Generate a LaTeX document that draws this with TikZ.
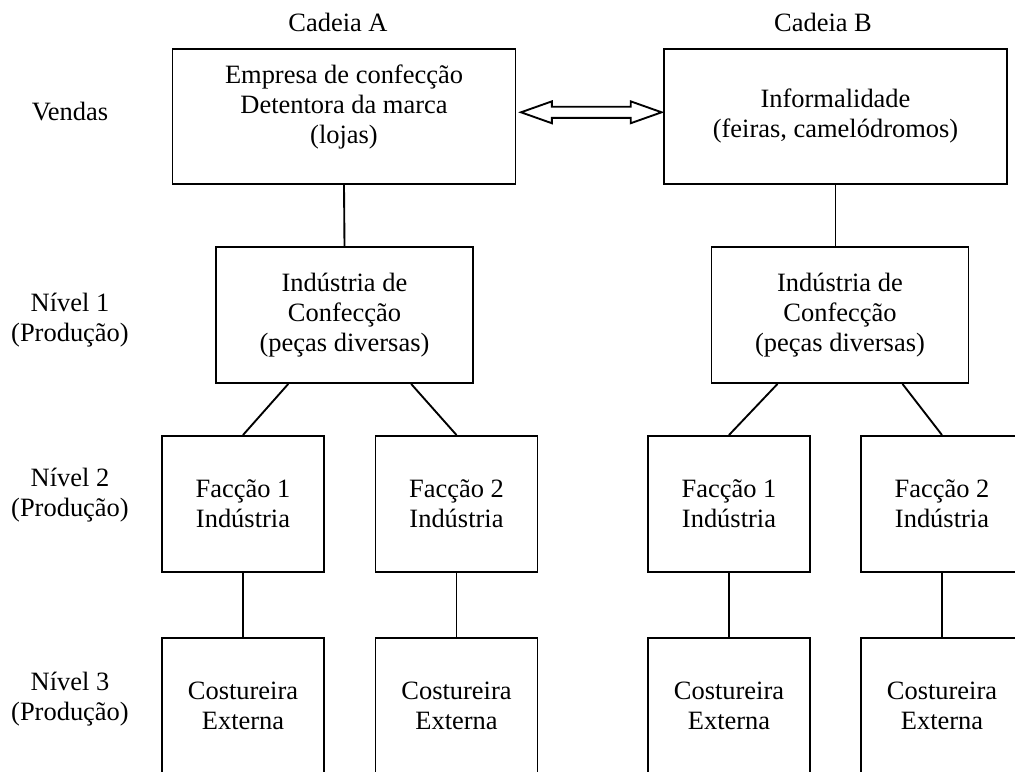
\documentclass[tikz,border=0pt]{standalone}
\usepackage{fontspec}
\setmainfont{Liberation Serif}
\usetikzlibrary{shapes.arrows}

\begin{document}
\begin{tikzpicture}[x=0.48pt,y=-0.48pt,font=\fontsize{12.7}{14.4}\selectfont,
  box/.style={draw,line width=0.9pt,align=center,inner sep=0pt},
  top/.style={box,minimum width=164.6pt,minimum height=64.8pt},
  ind/.style={box,minimum width=123.4pt,minimum height=65.3pt},
  fac/.style={box,minimum width=77.8pt,minimum height=65.3pt},
  lbl/.style={align=center},
  link/.style={line width=0.9pt}]
\useasboundingbox (0,0) rectangle (1015,772);
\clip (0,0) rectangle (1015,772);
% column titles
\node[lbl] (ca) at (338,22) {Cadeia A};
\node[lbl] (cb) at (823,22) {Cadeia B};
% level titles
\node[lbl] (l0) at (70,112) {Vendas};
\node[lbl] (l1) at (70,320) {Nível 1\\(Produção)};
\node[lbl] (l2) at (70,495) {Nível 2\\(Produção)};
\node[lbl] (l3) at (70,699) {Nível 3\\(Produção)};
% chain A
\node[top] (a0) at (344,116.5) {};
\node[lbl] (ta0) at (344,107) {Empresa de confecção\\Detentora da marca\\(lojas)};
\node[ind] (a1) at (344.5,315) {Indústria de\\Confecção\\(peças diversas)};
\node[fac] (a21) at (243,504) {Facção 1\\Indústria};
\node[fac] (a22) at (456.5,504) {Facção 2\\Indústria};
\node[fac] (a31) at (243,706) {Costureira\\Externa};
\node[fac] (a32) at (456.5,706) {Costureira\\Externa};
% chain B
\node[top] (b0) at (835.5,116.5) {Informalidade\\(feiras, camelódromos)};
\node[ind] (b1) at (840,315) {Indústria de\\Confecção\\(peças diversas)};
\node[fac] (b21) at (729,504) {Facção 1\\Indústria};
\node[fac] (b22) at (942,504) {Facção 2\\Indústria};
\node[fac] (b31) at (729,706) {Costureira\\Externa};
\node[fac] (b32) at (942,706) {Costureira\\Externa};
% link between chains
\node[double arrow,draw,line width=0.9pt,inner xsep=0pt,inner ysep=2.2pt,minimum height=67.5pt,
  minimum width=9.6pt,double arrow head extend=2.6pt,double arrow tip angle=39] (ab) at (591.3,112.3) {};
\draw[link] (a0.south) -- (a1.north);
\draw[link] ([xshift=-27pt]a1.south) -- (a21.north);
\draw[link] ([xshift=32pt]a1.south) -- (a22.north);
\draw[link] (a21.south) -- (a31.north);
\draw[link] (a22.south) -- (a32.north);
\draw[link] (b0.south) -- (b0.south |- b1.north);
\draw[link] ([xshift=-30pt]b1.south) -- (b21.north);
\draw[link] ([xshift=30pt]b1.south) -- (b22.north);
\draw[link] (b21.south) -- (b31.north);
\draw[link] (b22.south) -- (b32.north);
\end{tikzpicture}
\end{document}
